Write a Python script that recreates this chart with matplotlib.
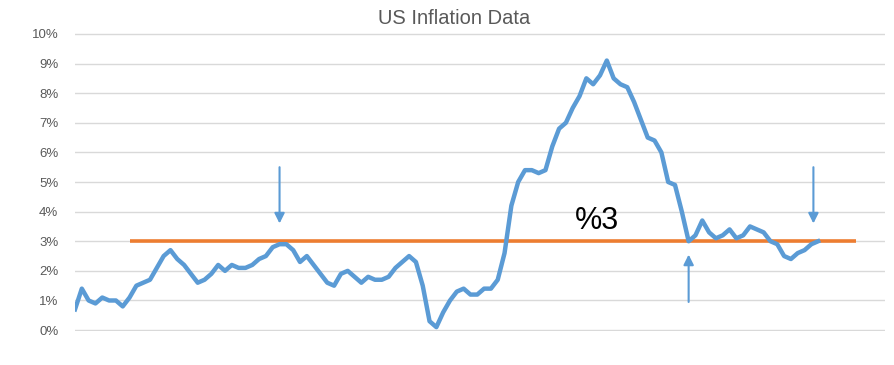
import numpy as np
import matplotlib
matplotlib.use("Agg")
from matplotlib import pyplot as plt

# monthly US CPI inflation (%), Dec 2015 .. Jan 2025
inflation = [0.7,
    1.4, 1.0, 0.9, 1.1, 1.0, 1.0, 0.8, 1.1, 1.5, 1.6, 1.7, 2.1,
    2.5, 2.7, 2.4, 2.2, 1.9, 1.6, 1.7, 1.9, 2.2, 2.0, 2.2, 2.1,
    2.1, 2.2, 2.4, 2.5, 2.8, 2.9, 2.9, 2.7, 2.3, 2.5, 2.2, 1.9,
    1.6, 1.5, 1.9, 2.0, 1.8, 1.6, 1.8, 1.7, 1.7, 1.8, 2.1, 2.3,
    2.5, 2.3, 1.5, 0.3, 0.1, 0.6, 1.0, 1.3, 1.4, 1.2, 1.2, 1.4,
    1.4, 1.7, 2.6, 4.2, 5.0, 5.4, 5.4, 5.3, 5.4, 6.2, 6.8, 7.0,
    7.5, 7.9, 8.5, 8.3, 8.6, 9.1, 8.5, 8.3, 8.2, 7.7, 7.1, 6.5,
    6.4, 6.0, 5.0, 4.9, 4.0, 3.0, 3.2, 3.7, 3.3, 3.1, 3.2, 3.4,
    3.1, 3.2, 3.5, 3.4, 3.3, 3.0, 2.9, 2.5, 2.4, 2.6, 2.7, 2.9,
    3.0]
target = 3.0
target_span = [8, 114.6]          # category index where the target line runs
# arrows: (category index, tail %, head %)
arrows = [(30.0, 5.5, 3.6), (90.0, 0.95, 2.55), (108.3, 5.5, 3.6)]
yticks = list(range(0, 11))

BLUE = "#5B9BD5"
ORANGE = "#ED7D31"
GREY = "#595959"

plt.rcParams['font.family'] = ['Liberation Sans', 'DejaVu Sans']

fig = plt.figure(figsize=(8.95, 3.65), dpi=100)
ax = fig.add_axes([75/895, 1-331/365, (885-75)/895, (331-33)/365])

x = np.arange(len(inflation))
ax.hlines(target, target_span[0], target_span[1], color=ORANGE, lw=2.6, zorder=3)
ax.plot(x, inflation, color=BLUE, lw=3.2, solid_joinstyle='round', zorder=4)

for xa, y0, y1 in arrows:
    ax.annotate("", xy=(xa, y1), xytext=(xa, y0),
                arrowprops=dict(arrowstyle="-|>,head_length=0.6,head_width=0.3",
                                color=BLUE, lw=1.5, shrinkA=0, shrinkB=0))

ax.text(76.6, 3.67, "%3", fontsize=22, color="black", ha="center", va="center")

ax.set_xlim(0, 118.8)
ax.set_ylim(-0.03, 10.03)
ax.set_yticks(yticks)
ax.set_yticklabels([f"{t}%" for t in yticks], color=GREY, fontsize=9.5)
ax.set_xticks([])
ax.tick_params(axis='y', length=0, pad=12)
ax.grid(axis='y', color="#D9D9D9", lw=1)
ax.set_axisbelow(True)
for s in ax.spines.values():
    s.set_visible(False)

fig.text(454/895, 1-19/365, "US Inflation Data", fontsize=14.5, color=GREY,
         ha="center", va="center")

fig.savefig("out.png", dpi=100)
